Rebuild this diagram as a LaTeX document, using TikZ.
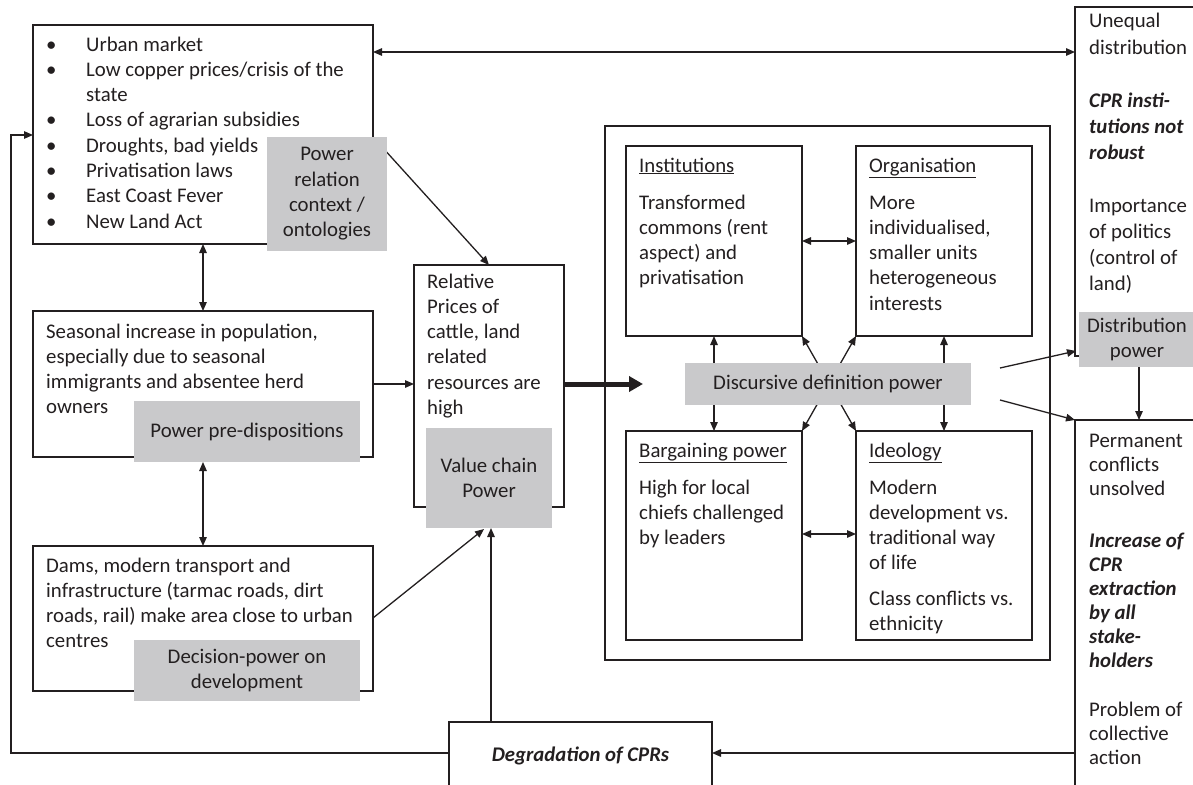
\documentclass[tikz,border=0pt]{standalone}
\usepackage{fontspec}
\setmainfont{Carlito}
\usetikzlibrary{arrows.meta}
\definecolor{grayc}{RGB}{201,201,203}
\definecolor{ink}{RGB}{35,31,32}
\newcommand\myfs{\fontsize{20.8pt}{25.3pt}\selectfont}
\begin{document}
\begin{tikzpicture}[x=1pt,y=-1pt,
  box/.style={draw=ink, line width=1.3pt, inner sep=0pt, outer sep=0pt, anchor=north west},
  gbox/.style={fill=grayc, text=ink, inner sep=0pt, outer sep=0pt, anchor=north west, align=center, font=\myfs},
  txt/.style={text=ink, inner sep=0pt, anchor=base west, align=left, font=\myfs},
  arr/.style={draw=ink, line width=1.3pt, -{Triangle[length=9pt,width=7.5pt]}},
  darr/.style={draw=ink, line width=1.3pt, {Triangle[length=9pt,width=7.5pt]}-{Triangle[length=9pt,width=7.5pt]}}]
\useasboundingbox (0,0) rectangle (1193,784);
\fill[white] (0,0) rectangle (1193,784);

% boxes
\node[box, minimum width=340pt, minimum height=219pt] (A) at (33,25) {};
\node[box, minimum width=340pt, minimum height=146pt] (B) at (33,311) {};
\node[box, minimum width=340pt, minimum height=145pt] (C) at (33,546) {};
\node[box, minimum width=150pt, minimum height=242pt] (D) at (414,265) {};
\node[box, line width=2.6pt, minimum width=445pt, minimum height=534pt] (F) at (605,126) {};
\node[box, minimum width=176pt, minimum height=190pt] (I) at (626,146) {};
\node[box, minimum width=176pt, minimum height=190pt] (O) at (856,146) {};
\node[box, minimum width=176pt, minimum height=209pt] (BP) at (626,431) {};
\node[box, minimum width=176pt, minimum height=209pt] (ID) at (856,431) {};
\node[box, minimum width=130pt, minimum height=349pt] (U) at (1075,7) {};
\node[box, minimum width=130pt, minimum height=390pt] (P) at (1075,420) {};
\node[box, minimum width=263pt, minimum height=80pt] (G) at (449,722) {};

% coordinates
\coordinate (Aw) at (33,135);
\coordinate (L1) at (11,753);
\coordinate (L2) at (11,135);
\coordinate (d1) at (1000,368);
\coordinate (d2) at (1000,400);

% connectors
\draw[darr] (A.east |- 0,52) -- (U.west |- 0,52);
\draw[arr] (G.west |- 0,753) -- (L1) -- (L2) -- (Aw);
\draw[arr] (373,137) -- (D.north);
\draw[darr] (203,244) -- (203,311);
\draw[arr] (B.east |- 0,384) -- (D.west |- 0,384);
\draw[darr] (203,462) -- (203,546);
\draw[arr] (373,618) -- (484,529);
\draw[arr] (491,722) -- (491,528);
\draw[draw=ink, line width=5pt, -{Triangle[length=14pt,width=15pt]}] (D.east |- 0,384) -- (643,384);
\draw[darr] (I.east |- 0,241) -- (O.west |- 0,241);
\draw[darr] (BP.east |- 0,534) -- (ID.west |- 0,534);
\draw[darr] (714,336) -- (714,431);
\draw[darr] (944,336) -- (944,431);
\draw[darr] (I.south east) -- (ID.north west);
\draw[darr] (O.south west) -- (BP.north east);
\draw[arr] (d1) -- (1076,351);
\draw[arr] (d2) -- (P.north west);
\draw[arr] (1139,367) -- (1139,420);
\draw[arr] (P.west |- 0,753) -- (G.east |- 0,753);

% gray labels
\node[gbox, minimum width=120pt, minimum height=114pt] (PR) at (267,137) {Power\\relation\\context /\\ontologies};
\node[gbox, minimum width=226pt, minimum height=61pt] (PP) at (134,401) {Power pre-dispositions};
\node[gbox, minimum width=226pt, minimum height=61pt] (DP) at (134,640) {Decision-power on\\development};
\node[gbox, minimum width=126pt, minimum height=100pt] (VC) at (426,428) {Value chain\\Power};
\node[gbox, minimum width=286pt, minimum height=42pt] (DD) at (685,363) {Discursive definition power};
\node[gbox, minimum width=116pt, minimum height=55pt] (DI) at (1079,312) {Distribution\\power};

% texts (anchored at the baseline of their last line)
\node[txt] (Ab) at (46,228.1) {•\\•\\[25.3pt]•\\•\\•\\•\\•};
\node[txt] (At) at (86,228.1) {Urban market\\Low copper prices/crisis of the\\state\\Loss of agrarian subsidies\\Droughts, bad yields\\Privatisation laws\\East Coast Fever\\New Land Act};
\node[txt] (Bt) at (46,413.9) {Seasonal increase in population,\\especially due to seasonal\\immigrants and absentee herd\\owners};
\node[txt] (Ct) at (46,647.9) {Dams, modern transport and\\infrastructure (tarmac roads, dirt\\roads, rail) make area close to urban\\centres};
\node[txt] (Dt) at (427,414.5) {Relative\\Prices of\\cattle, land\\related\\resources are\\high};
\node[txt] (It) at (639,284.9) {\underline{Institutions}\\[11.7pt]Transformed\\commons (rent\\aspect) and\\privatisation};
\node[txt] (Ot) at (869,310.2) {\underline{Organisation}\\[11.7pt]More\\individualised,\\smaller units\\heterogeneous\\interests};
\node[txt] (BPt) at (639,544.6) {\underline{Bargaining power}\\[11.7pt]High for local\\chiefs challenged\\by leaders};
\node[txt] (IDt) at (869,630.5) {\underline{Ideology}\\[11.7pt]Modern\\development vs.\\traditional way\\of life\\[10pt]Class conflicts vs.\\ethnicity};
\node[txt, font=\fontsize{20.8pt}{26.3pt}\selectfont] (Ut1) at (1089,54.3) {Unequal\\distribution};
\node[txt, font=\fontsize{20.8pt}{26.3pt}\selectfont\bfseries\itshape] (Ut2) at (1089,159.6) {CPR insti-\\tutions not\\robust};
\node[txt, font=\fontsize{20.8pt}{26.3pt}\selectfont] (Ut3) at (1089,290.9) {Importance\\of politics\\(control of\\land)};
\node[txt, font=\fontsize{20.8pt}{24pt}\selectfont] (Pt1) at (1089,495) {Permanent\\conflicts\\unsolved};
\node[txt, font=\fontsize{20.8pt}{24pt}\selectfont\bfseries\itshape] (Pt2) at (1089,667) {Increase of\\CPR\\extraction\\by all\\stake-\\holders};
\node[txt, font=\fontsize{20.8pt}{24pt}\selectfont] (Pt3) at (1089,764) {Problem of\\collective\\action};
\node[text=ink, inner sep=0pt, font=\myfs\bfseries\itshape] (Gt) at (580.5,756) {Degradation of CPRs};
\end{tikzpicture}
\end{document}
